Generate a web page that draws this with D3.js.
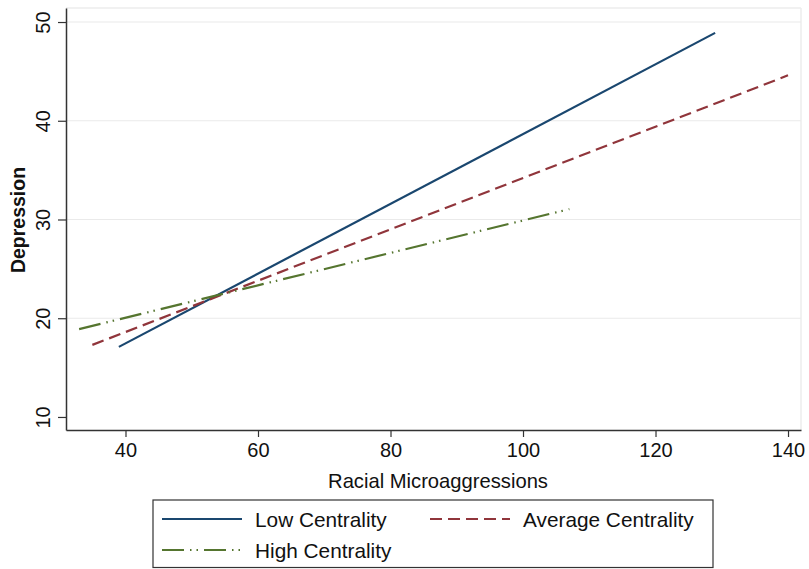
<!DOCTYPE html>
<html>
<head>
<meta charset="utf-8">
<script src="https://cdn.jsdelivr.net/npm/d3@7"></script>
<style>
  html, body { margin: 0; padding: 0; background: #fff; }
  svg { display: block; }
  text { font-family: "Liberation Sans", Arial, Helvetica, sans-serif; fill: #111; }
</style>
</head>
<body>
<svg id="chart" width="809" height="569"></svg>
<script>
// ---- data ----
const seriesNames = ["Low Centrality", "Average Centrality", "High Centrality"];
const lowX = [39, 129];
const lowY = [17.1, 48.9];
const avgX = [35, 140];
const avgY = [17.3, 44.6];
const highX = [33, 107];
const highY = [18.9, 31.05];
const xTicks = [40, 60, 80, 100, 120, 140];
const yTicks = [10, 20, 30, 40, 50];
const gridValues = [20, 30, 40, 50];
const xTitle = "Racial Microaggressions";
const yTitle = "Depression";

(function () {
// ---- styles ----
const colors = ["#1a476f", "#90353b", "#55752f"];
const dashes = [null, "12,6", "22,6,1.5,5,1.5,6"];

const svg = d3.select("#chart");
const pL = 66, pR = 801, pT = 8, pB = 430;

const x = d3.scaleLinear().domain([31.02, 141.96]).range([pL, pR]);
const y = d3.scaleLinear().domain([8.68, 51.42]).range([pB, pT]);

// plot region outline (light)
svg.append("line").attr("x1", pL).attr("x2", pR).attr("y1", pT).attr("y2", pT)
  .attr("stroke", "#ececec").attr("stroke-width", 1.5);
svg.append("line").attr("x1", pR).attr("x2", pR).attr("y1", pT).attr("y2", pB)
  .attr("stroke", "#ececec").attr("stroke-width", 1.5);

// gridlines
svg.append("g").selectAll("line").data(gridValues).join("line")
  .attr("x1", pL).attr("x2", pR)
  .attr("y1", d => y(d)).attr("y2", d => y(d))
  .attr("stroke", "#eaeaea").attr("stroke-width", 1.2);

// x axis
const gx = svg.append("g").attr("transform", `translate(0,${pB})`)
  .call(d3.axisBottom(x).tickValues(xTicks).tickSize(7).tickPadding(6).tickSizeOuter(0));
gx.select(".domain").attr("stroke", "#333").attr("stroke-width", 1.5);
gx.selectAll(".tick line").attr("stroke", "#333").attr("stroke-width", 1.2);
gx.selectAll(".tick text").attr("font-size", 20).attr("fill", "#111")
  .attr("font-family", "Liberation Sans, Arial, sans-serif");

// y axis
const gy = svg.append("g").attr("transform", `translate(${pL},0)`)
  .call(d3.axisLeft(y).tickValues(yTicks).tickSize(8).tickSizeOuter(0));
gy.select(".domain").attr("stroke", "#333").attr("stroke-width", 1.5);
gy.selectAll(".tick line").attr("stroke", "#333").attr("stroke-width", 1.2);
gy.selectAll(".tick text")
  .attr("font-size", 20).attr("fill", "#111")
  .attr("font-family", "Liberation Sans, Arial, sans-serif")
  .attr("x", null).attr("dy", null)
  .attr("text-anchor", "middle")
  .attr("transform", "translate(-16,0) rotate(-90)");

// axis titles
svg.append("text").attr("x", 438).attr("y", 488)
  .attr("text-anchor", "middle").attr("font-size", 20.2).text(xTitle);
svg.append("text").attr("transform", "translate(25,220) rotate(-90)")
  .attr("text-anchor", "middle").attr("font-size", 19.5).attr("font-weight", "bold").text(yTitle);

// lines
const seriesX = [lowX, avgX, highX];
const seriesY = [lowY, avgY, highY];
const lineGen = d3.line().x(d => x(d[0])).y(d => y(d[1]));
seriesNames.forEach((name, i) => {
  const pts = seriesX[i].map((v, j) => [v, seriesY[i][j]]);
  svg.append("path").datum(pts)
    .attr("d", lineGen)
    .attr("fill", "none")
    .attr("stroke", colors[i])
    .attr("stroke-width", 2.2)
    .attr("stroke-dasharray", dashes[i]);
});

// legend
const lg = svg.append("g");
lg.append("rect").attr("x", 153).attr("y", 500).attr("width", 560).attr("height", 67.5)
  .attr("fill", "#fff").attr("stroke", "#333").attr("stroke-width", 1.2);
const legendPos = [[162, 519], [430, 519], [162, 550]];
seriesNames.forEach((name, i) => {
  const [lx, ly] = legendPos[i];
  lg.append("line").attr("x1", lx).attr("x2", lx + 80).attr("y1", ly).attr("y2", ly)
    .attr("stroke", colors[i]).attr("stroke-width", 2)
    .attr("stroke-dasharray", dashes[i]);
  lg.append("text").attr("x", lx + 93).attr("y", ly + 8)
    .attr("font-size", 20.8).text(name);
});
})();
</script>
</body>
</html>
